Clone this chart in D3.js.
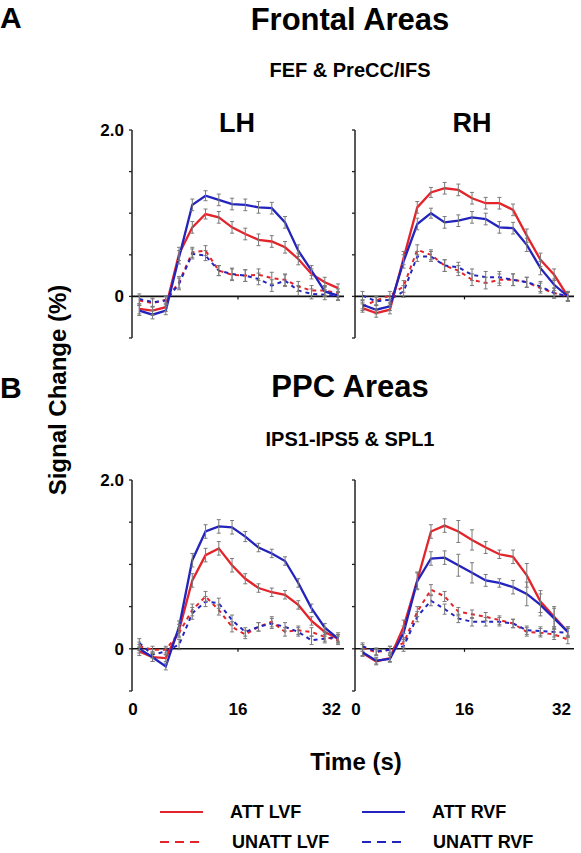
<!DOCTYPE html>
<html><head><meta charset="utf-8">
<script src="https://cdn.jsdelivr.net/npm/d3@7"></script>
<style>body{margin:0;background:#fff}svg{display:block}text{font-family:"Liberation Sans",Arial,sans-serif;font-weight:bold;fill:#000}</style>
</head><body>
<script>
// ---- data ----
const times = [1.1,3.1,5.1,7.1,9.1,11.1,13.1,15.1,17.1,19.1,21.1,23.1,25.1,27.1,29.1,31.1];
const xTickValues = [0,16,32];
const yTickValues = [-0.5,0,0.5,1,1.5,2];
const yLabelValues = [0,2];
const seriesNames = ["ATT LVF","ATT RVF","UNATT LVF","UNATT RVF"];

// Frontal LH
const frLH_attLVF   = [-0.15,-0.17,-0.13,0.51,0.83,0.99,0.95,0.83,0.75,0.68,0.66,0.59,0.45,0.27,0.17,0.10];
const frLH_attRVF   = [-0.17,-0.22,-0.17,0.47,1.10,1.21,1.16,1.11,1.10,1.07,1.06,0.89,0.55,0.31,0.06,0.01];
const frLH_unLVF    = [-0.05,-0.08,-0.04,0.17,0.53,0.55,0.31,0.26,0.25,0.26,0.22,0.20,0.12,0.07,0.07,0.04];
const frLH_unRVF    = [-0.03,-0.07,-0.05,0.15,0.51,0.49,0.31,0.27,0.25,0.21,0.13,0.19,0.07,0.03,0.02,0.00];
const frLH_errSolid = [0.06,0.05,0.05,0.08,0.07,0.06,0.07,0.07,0.07,0.07,0.07,0.07,0.07,0.06,0.06,0.05];
const frLH_errDash  = [0.06,0.05,0.05,0.07,0.06,0.06,0.06,0.07,0.07,0.07,0.07,0.07,0.06,0.06,0.06,0.05];
// Frontal RH
const frRH_attLVF   = [-0.14,-0.20,-0.16,0.46,1.07,1.25,1.30,1.28,1.18,1.12,1.12,1.04,0.73,0.44,0.26,0.00];
const frRH_attRVF   = [-0.10,-0.16,-0.12,0.42,0.87,1.00,0.89,0.91,0.95,0.93,0.83,0.82,0.62,0.34,0.14,0.00];
const frRH_unLVF    = [-0.12,-0.05,0.01,0.12,0.56,0.50,0.37,0.31,0.20,0.16,0.20,0.20,0.17,0.10,0.04,0.00];
const frRH_unRVF    = [0.01,-0.06,-0.04,0.06,0.48,0.48,0.37,0.35,0.26,0.23,0.23,0.20,0.17,0.12,0.04,0.00];
const frRH_errSolid = [0.05,0.05,0.05,0.08,0.07,0.06,0.07,0.07,0.07,0.07,0.07,0.07,0.08,0.08,0.07,0.06];
const frRH_errDash  = [0.05,0.05,0.05,0.07,0.06,0.06,0.07,0.06,0.07,0.07,0.07,0.07,0.06,0.06,0.06,0.05];
// PPC LH
const ppLH_attLVF   = [-0.03,-0.10,-0.11,0.22,0.81,1.11,1.19,0.99,0.83,0.72,0.67,0.64,0.52,0.33,0.20,0.12];
const ppLH_attRVF   = [0.00,-0.10,-0.21,0.26,1.05,1.39,1.45,1.44,1.33,1.20,1.13,1.04,0.78,0.48,0.25,0.12];
const ppLH_unLVF    = [0.03,-0.01,-0.01,0.19,0.46,0.62,0.46,0.26,0.17,0.26,0.32,0.20,0.22,0.20,0.14,0.10];
const ppLH_unRVF    = [0.07,-0.07,-0.03,0.05,0.42,0.56,0.54,0.34,0.20,0.26,0.30,0.26,0.20,0.10,0.12,0.14];
const ppLH_errSolid = [0.05,0.05,0.04,0.07,0.08,0.08,0.08,0.08,0.06,0.05,0.05,0.05,0.05,0.05,0.05,0.05];
const ppLH_errDash  = [0.05,0.04,0.04,0.06,0.07,0.06,0.06,0.06,0.05,0.05,0.06,0.05,0.05,0.05,0.05,0.05];
// PPC RH
const ppRH_attLVF   = [-0.05,-0.15,-0.11,0.26,0.81,1.39,1.46,1.39,1.29,1.20,1.12,1.09,0.87,0.56,0.38,0.20];
const ppRH_attRVF   = [-0.04,-0.14,-0.12,0.19,0.80,1.07,1.08,0.99,0.90,0.81,0.78,0.73,0.65,0.52,0.36,0.20];
const ppRH_unLVF    = [0.01,-0.04,-0.01,0.07,0.44,0.70,0.62,0.44,0.41,0.38,0.34,0.30,0.20,0.19,0.17,0.11];
const ppRH_unRVF    = [0.03,-0.03,-0.01,0.03,0.38,0.57,0.47,0.36,0.32,0.32,0.32,0.30,0.22,0.21,0.20,0.19];
const ppRH_errSolid = [0.04,0.04,0.04,0.08,0.10,0.08,0.08,0.13,0.12,0.07,0.05,0.08,0.14,0.13,0.12,0.06];
const ppRH_errDash  = [0.04,0.04,0.04,0.06,0.06,0.06,0.06,0.05,0.05,0.05,0.05,0.05,0.05,0.05,0.06,0.05];

// ---- styling / layout ----
const RED = "#e3242b", BLUE = "#2323bd", ERR = "#7a7a7a";
const styles = [
  {color:RED,  dash:null},
  {color:BLUE, dash:null},
  {color:RED,  dash:"4,4"},
  {color:BLUE, dash:"4,4"}
];
const panels = [
  {series:[frLH_attLVF,frLH_attRVF,frLH_unLVF,frLH_unRVF], err:[frLH_errSolid,frLH_errSolid,frLH_errDash,frLH_errDash], xr:[132,344], yr:[338,130], leftLabels:true},
  {series:[frRH_attLVF,frRH_attRVF,frRH_unLVF,frRH_unRVF], err:[frRH_errSolid,frRH_errSolid,frRH_errDash,frRH_errDash], xr:[355,574], yr:[338,130], leftLabels:false},
  {series:[ppLH_attLVF,ppLH_attRVF,ppLH_unLVF,ppLH_unRVF], err:[ppLH_errSolid,ppLH_errSolid,ppLH_errDash,ppLH_errDash], xr:[132,344], yr:[691,480], leftLabels:true, xLabels:true},
  {series:[ppRH_attLVF,ppRH_attRVF,ppRH_unLVF,ppRH_unRVF], err:[ppRH_errSolid,ppRH_errSolid,ppRH_errDash,ppRH_errDash], xr:[355,574], yr:[691,480], leftLabels:false, xLabels:true}
];

const svg = d3.select("body").append("svg").attr("width",581).attr("height",853);

panels.forEach(p => {
  const x = d3.scaleLinear().domain([0,32]).range(p.xr);
  const y = d3.scaleLinear().domain([-0.5,2]).range(p.yr);
  const g = svg.append("g");
  // y axis
  g.append("line").attr("x1",x(0)).attr("x2",x(0)).attr("y1",y(2)).attr("y2",y(-0.5)).attr("stroke","#222").attr("stroke-width",1.5);
  g.selectAll(".yt").data(yTickValues).join("line")
    .attr("x1",x(0)-3).attr("x2",x(0)).attr("y1",d=>y(d)).attr("y2",d=>y(d)).attr("stroke","#222").attr("stroke-width",1.3);
  // zero line
  g.append("line").attr("x1",x(0)).attr("x2",x(32)).attr("y1",y(0)).attr("y2",y(0)).attr("stroke","#111").attr("stroke-width",1.6);
  g.append("line").attr("x1",x(16)).attr("x2",x(16)).attr("y1",y(0)).attr("y2",y(0)+3).attr("stroke","#111").attr("stroke-width",1.2);
  if (p.leftLabels) {
    g.selectAll(".yl").data(yLabelValues).join("text")
      .attr("x", x(0)-8).attr("y", d=>y(d)+6).attr("text-anchor","end").attr("font-size",17)
      .text(d=> d===0 ? "0" : d3.format(".1f")(d));
  }
  if (p.xLabels) {
    g.selectAll(".xl").data(xTickValues).join("text")
      .attr("x", d => d===32 ? x(d)-3 : (d===0 ? x(d)+1 : x(d)))
      .attr("y", 715)
      .attr("text-anchor", d => d===32 ? "end" : "middle")
      .attr("font-size",17).text(d=>d);
  }
  const line = d3.line().x((d,i)=>x(times[i])).y(d=>y(d));
  [2,3,0,1].forEach(si => {
    g.append("path").attr("d", line(p.series[si])).attr("fill","none")
      .attr("stroke", styles[si].color).attr("stroke-width", styles[si].dash ? 2 : 2.3)
      .attr("stroke-dasharray", styles[si].dash);
  });
  [0,1,2,3].forEach(si => {
    const vals = p.series[si], errs = p.err[si];
    const eg = g.append("g").attr("stroke",ERR).attr("stroke-width",1);
    vals.forEach((v,i) => {
      const cx = x(times[i]), e = errs[i];
      eg.append("line").attr("x1",cx).attr("x2",cx).attr("y1",y(v-e)).attr("y2",y(v+e));
      eg.append("line").attr("x1",cx-2).attr("x2",cx+2).attr("y1",y(v+e)).attr("y2",y(v+e));
      eg.append("line").attr("x1",cx-2).attr("x2",cx+2).attr("y1",y(v-e)).attr("y2",y(v-e));
    });
  });
});

// titles
const T = (txt,x,yy,size,anchor="middle") => svg.append("text").attr("x",x).attr("y",yy).attr("font-size",size).attr("text-anchor",anchor).text(txt);
T("A",0,28,30,"start");
T("Frontal Areas",350,30,31);
T("FEF & PreCC/IFS",350,77,20);
T("LH",237,132,27);
T("RH",472,132,27);
T("B",0,398,30,"start");
T("PPC Areas",350,397,31);
T("IPS1-IPS5 & SPL1",350,446,20);
T("Time (s)",356,770,24);
svg.append("text").attr("transform","translate(66,390) rotate(-90)").attr("text-anchor","middle").attr("font-size",24).text("Signal Change (%)");

// legend
const legend = [
  {name:seriesNames[0], si:0, lx:160, tx:230, y:812},
  {name:seriesNames[1], si:1, lx:362, tx:432, y:812},
  {name:seriesNames[2], si:2, lx:160, tx:232, y:842},
  {name:seriesNames[3], si:3, lx:362, tx:433, y:842}
];
legend.forEach(l => {
  svg.append("line").attr("x1",l.lx).attr("x2",l.lx+43).attr("y1",l.y).attr("y2",l.y)
    .attr("stroke",styles[l.si].color).attr("stroke-width",2.2)
    .attr("stroke-dasharray", styles[l.si].dash ? "9,6" : null);
  svg.append("text").attr("x",l.tx).attr("y",l.y+6).attr("font-size",18).text(l.name);
});
</script>
</body></html>
